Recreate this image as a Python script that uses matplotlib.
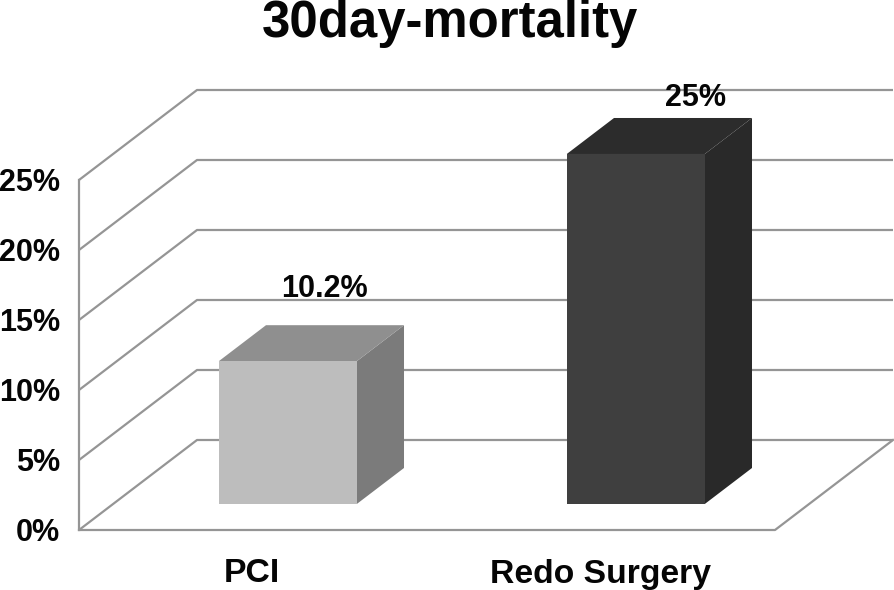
import matplotlib
matplotlib.use("Agg")
import matplotlib.pyplot as plt
from matplotlib.patches import Polygon

plt.rcParams['font.family'] = ['Liberation Sans', 'DejaVu Sans']

title = "30day-mortality"
categories = ["PCI", "Redo Surgery"]
values = [10.2, 25]
value_labels = ["10.2%", "25%"]
ticks = [0, 5, 10, 15, 20, 25]
tick_labels = ["0%", "5%", "10%", "15%", "20%", "25%"]
front_colors = ["#bdbdbd", "#3f3f3f"]
top_colors = ["#8f8f8f", "#2c2c2c"]
side_colors = ["#7b7b7b", "#292929"]

W, H = 894, 590
PX_X = 348.0   # pixels per category
PX_Y = 14.0    # pixels per percent
X0, Y0 = 253.0, 530.0  # pixel of category 0 / value 0 on the front edge
DX = 118.0 / PX_X      # full depth shift, x
DY = 90.0 / PX_Y       # full depth shift, y
BAR_HALF = 69.0 / PX_X
BAR_SHIFT = 0.7 / PX_X
D0, D1 = 0.289, 0.689  # bar depth range
GRID = "#959595"
INK = "#050505"
LABEL_SHIFT = [(-10, 36), (13, 20)]  # pixels from the back top edge of each bar

fig = plt.figure(figsize=(W / 100, H / 100), dpi=100)
ax = fig.add_axes([0, 0, 1, 1])
ax.set_xlim((0 - X0) / PX_X, (W - X0) / PX_X)
ax.set_ylim((Y0 - H) / PX_Y, Y0 / PX_Y)
ax.axis("off")


def proj(x, v, d):
    return (x + d * DX, v + d * DY)


xl, xr = -0.5, 1.5

# walls and grid
for t, lab in zip(ticks, tick_labels):
    pts = [proj(xl, t, 0), proj(xl, t, 1), proj(xr, t, 1)]
    ax.plot(*zip(*pts), color=GRID, lw=1.6, solid_capstyle="butt", zorder=1)
    ax.text(proj(xl, 0, 0)[0] - 19 / PX_X, t - 3 / PX_Y, lab, ha="right",
            va="center", fontsize=22, fontweight="bold", color=INK, zorder=5)

# floor
floor = [proj(xl, 0, 0), proj(xr, 0, 0), proj(xr, 0, 1)]
ax.plot(*zip(*floor), color=GRID, lw=1.6, zorder=1)
# left wall edge
ax.plot(*zip(proj(xl, 0, 0), proj(xl, ticks[-1], 0)), color=GRID, lw=1.6, zorder=1)

# bars
for i, (cat, v) in enumerate(zip(categories, values)):
    a, b = i - BAR_HALF + BAR_SHIFT, i + BAR_HALF + BAR_SHIFT
    front = [proj(a, 0, D0), proj(b, 0, D0), proj(b, v, D0), proj(a, v, D0)]
    top = [proj(a, v, D0), proj(b, v, D0), proj(b, v, D1), proj(a, v, D1)]
    side = [proj(b, 0, D0), proj(b, 0, D1), proj(b, v, D1), proj(b, v, D0)]
    ax.add_patch(Polygon(side, closed=True, fc=side_colors[i], ec="none", zorder=3))
    ax.add_patch(Polygon(top, closed=True, fc=top_colors[i], ec="none", zorder=3))
    ax.add_patch(Polygon(front, closed=True, fc=front_colors[i], ec="none", zorder=4))
    lx, ly = proj(i, v, D1)
    sx, sy = LABEL_SHIFT[i]
    ax.text(lx + sx / PX_X, ly + sy / PX_Y, value_labels[i], ha="center", va="center", fontsize=22,
            color=INK, fontweight="bold", zorder=6)
    ax.text(i - 1 / PX_X, -44 / PX_Y, cat, ha="center", va="center",
            fontsize=24.3, fontweight="bold", color=INK, zorder=6)

ax.text((450 - X0) / PX_X, (Y0 - 37) / PX_Y, title, ha="center", va="baseline",
        fontsize=36.6, fontweight="bold", color=INK)

fig.savefig("out.png", dpi=100)
